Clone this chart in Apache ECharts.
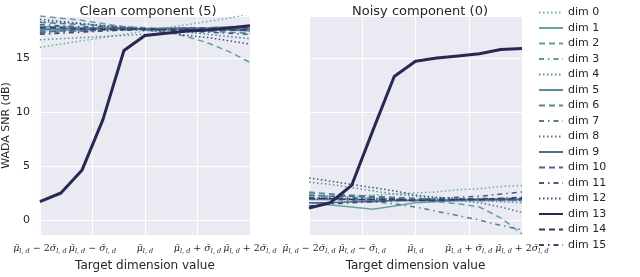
<!DOCTYPE html>
<html><head><meta charset="utf-8">
<script src="https://cdn.jsdelivr.net/npm/echarts@6/dist/echarts.min.js"></script>
<style>html,body{margin:0;padding:0;background:#fff}#c{width:640px;height:277px}</style>
</head><body><div id="c"></div>
<script>
// x positions in units of sigma from the mean
const xs = [-2, -1.6, -1.2, -0.8, -0.4, 0, 0.4, 0.8, 1.2, 1.6, 2];
const xTicks = [-2, -1, 0, 1, 2];
const yTicks = [0, 5, 10, 15];
const dims = ['dim 0','dim 1','dim 2','dim 3','dim 4','dim 5','dim 6','dim 7','dim 8','dim 9','dim 10','dim 11','dim 12','dim 13','dim 14','dim 15'];
const titles = ['Clean component (5)', 'Noisy component (0)'];

// Clean component (5): WADA SNR per dimension
const clean0  = [16.0,16.3,16.6,16.9,17.2,17.5,17.8,18.1,18.4,18.7,19.1];
const clean1  = [17.6,17.6,17.6,17.7,17.7,17.7,17.8,17.8,17.8,17.9,17.9];
const clean2  = [18.9,18.7,18.5,18.2,17.9,17.6,17.4,17.0,16.4,15.6,14.6];
const clean3  = [17.3,17.4,17.5,17.6,17.6,17.7,17.7,17.8,17.8,17.9,18.0];
const clean4  = [16.7,16.8,16.9,17.0,17.1,17.2,17.3,17.4,17.5,17.6,17.7];
const clean5  = [17.9,17.9,17.8,17.8,17.8,17.7,17.7,17.7,17.6,17.6,17.5];
const clean6  = [18.3,18.2,18.1,18.0,17.9,17.8,17.7,17.6,17.5,17.4,17.3];
const clean7  = [17.5,17.5,17.6,17.6,17.6,17.7,17.7,17.7,17.7,17.8,17.8];
const clean8  = [18.4,18.3,18.2,18.0,17.9,17.8,17.6,17.4,17.2,17.0,16.8];
const clean9  = [17.7,17.7,17.7,17.7,17.7,17.7,17.7,17.7,17.7,17.7,17.7];
const clean10 = [17.4,17.5,17.5,17.6,17.6,17.7,17.7,17.8,17.8,17.8,17.9];
const clean11 = [18.1,18.0,17.9,17.9,17.8,17.7,17.6,17.5,17.4,17.3,17.2];
const clean12 = [18.6,18.4,18.2,18.0,17.8,17.6,17.4,17.1,16.9,16.6,16.3];
const clean13 = [1.7,2.5,4.6,9.3,15.7,17.1,17.3,17.5,17.6,17.8,18.0];
const clean14 = [17.8,17.8,17.7,17.7,17.7,17.7,17.6,17.6,17.6,17.6,17.6];
const clean15 = [17.2,17.3,17.4,17.5,17.6,17.6,17.6,17.7,17.7,17.7,17.7];

// Noisy component (0): WADA SNR per dimension
const noisy0  = [2.0,2.1,2.2,2.3,2.4,2.5,2.6,2.8,2.9,3.1,3.2];
const noisy1  = [1.6,1.4,1.2,1.0,1.3,1.6,1.7,1.8,1.8,1.9,1.9];
const noisy2  = [2.6,2.4,2.2,2.1,2.0,1.9,1.7,1.5,1.2,0.2,-1.3];
const noisy3  = [2.3,2.2,2.1,2.0,1.9,1.9,1.8,1.8,1.8,1.8,1.8];
const noisy4  = [3.5,3.3,3.0,2.7,2.4,2.2,2.0,1.9,1.8,1.7,1.6];
const noisy5  = [1.9,1.9,1.9,1.8,1.8,1.8,1.8,1.8,1.9,1.9,1.9];
const noisy6  = [2.5,2.4,2.3,2.2,2.1,2.0,1.9,1.9,1.8,1.8,1.8];
const noisy7  = [2.0,1.9,1.8,1.7,1.5,1.2,0.8,0.4,0.0,-0.5,-0.9];
const noisy8  = [2.0,2.0,2.0,2.0,1.9,1.9,1.9,1.8,1.6,1.2,0.7];
const noisy9  = [1.6,1.6,1.7,1.7,1.8,1.8,1.8,1.9,1.9,1.9,1.9];
const noisy10 = [2.3,2.2,2.2,2.1,2.0,1.9,1.9,1.9,1.9,1.9,2.0];
const noisy11 = [2.1,2.0,2.0,1.9,1.9,1.9,2.0,2.1,2.2,2.4,2.6];
const noisy12 = [3.9,3.6,3.3,3.0,2.7,2.3,2.1,2.0,1.9,1.9,1.9];
const noisy13 = [1.1,1.6,3.2,8.3,13.3,14.7,15.0,15.2,15.4,15.8,15.9];
const noisy14 = [2.0,2.0,1.9,1.9,1.9,1.8,1.8,1.9,1.9,2.0,2.0];
const noisy15 = [1.3,1.5,1.6,1.7,1.8,1.8,1.9,1.9,2.0,2.0,2.1];

const clean = [clean0,clean1,clean2,clean3,clean4,clean5,clean6,clean7,clean8,clean9,clean10,clean11,clean12,clean13,clean14,clean15];
const noisy = [noisy0,noisy1,noisy2,noisy3,noisy4,noisy5,noisy6,noisy7,noisy8,noisy9,noisy10,noisy11,noisy12,noisy13,noisy14,noisy15];

const colors = ['#6fada3','#68a7a0','#63a19e','#5e9b9c','#5a949a','#578d98','#548696','#527f94','#507892','#4c6f90','#49668b','#455c86','#40527e','#2a2852','#333866','#3b4470'];
const dashes = ['dotted','solid','dashed','dashdot'];
function lineType(i){
  const t = dashes[i % 4];
  if (t === 'dotted') return [1.5, 2.5];
  if (t === 'dashed') return [6, 4];
  if (t === 'dashdot') return [5, 4, 1.5, 4];
  return 'solid';
}
const txt = '#262626';
const fontSans = 'DejaVu Sans';

function xLabel(v){
  const mu = '{m|μ̄}{s|l, d}';
  const sg = '{m|σ̄}{s|l, d}';
  if (v === -2) return mu + '{o| − 2}' + sg;
  if (v === -1) return mu + '{o| − }' + sg;
  if (v === 0) return mu;
  if (v === 1) return mu + '{o| + }' + sg;
  if (v === 2) return mu + '{o| + 2}' + sg;
  return '';
}
const rich = {
  m: {fontFamily:'DejaVu Serif', fontStyle:'italic', fontSize:9.5, color:txt, lineHeight:14, verticalAlign:'middle'},
  s: {fontFamily:'DejaVu Serif', fontStyle:'italic', fontSize:6.5, color:txt, lineHeight:14, verticalAlign:'bottom', padding:[4,0,0,0]},
  o: {fontFamily:'DejaVu Serif', fontSize:9.5, color:txt, lineHeight:14, verticalAlign:'middle'}
};

const grids = [
  {left:37, top:16, width:213, height:223},
  {left:309, top:16, width:213, height:223}
];
function xAx(gi){
  return {type:'value', gridIndex:gi, min:-2, max:2, interval:1,
    name:'Target dimension value', nameLocation:'middle', nameGap:20,
    nameTextStyle:{fontFamily:fontSans, fontSize:12, color:txt},
    axisLine:{show:false}, axisTick:{show:false},
    axisLabel:{formatter:xLabel, rich:rich, margin:6, hideOverlap:false, interval:0,
      showMinLabel:true, showMaxLabel:true},
    splitLine:{show:true, lineStyle:{color:'#ffffff', width:1}}};
}
function yAx(gi){
  return {type:'value', gridIndex:gi, min:-1.4, max:18.9,
    name: gi === 0 ? 'WADA SNR (dB)' : '', nameLocation:'middle', nameGap:24,
    nameTextStyle:{fontFamily:fontSans, fontSize:11, color:txt},
    axisLine:{show:false}, axisTick:{show:false},
    axisLabel:{show: gi === 0, fontFamily:fontSans, fontSize:11, color:txt, margin:10,
      showMinLabel:false, showMaxLabel:false,
      formatter: v => yTicks.indexOf(v) >= 0 ? String(v) : ''},
    splitLine:{show:true, lineStyle:{color:'#ffffff', width:1}}};
}

const series = [];
[clean, noisy].forEach((set, gi) => {
  set.forEach((vals, i) => {
    series.push({
      type:'line', name:dims[i], xAxisIndex:gi, yAxisIndex:gi,
      data: xs.map((x, k) => [x, vals[k]]),
      symbol:'none', showSymbol:false, silent:true, animation:false,
      color: colors[i],
      lineStyle:{color:colors[i], width: i === 13 ? 3 : 1.5, type: lineType(i)},
      z: i === 13 ? 5 : 2
    });
  });
});

const chart = echarts.init(document.getElementById('c'), null, {renderer:'canvas'});
chart.setOption({
  animation:false,
  title: titles.map((t, i) => ({text:t, left: i === 0 ? 143 : 415, top:0, textAlign:'center',
    textStyle:{fontFamily:fontSans, fontSize:13, fontWeight:'normal', color:txt}})),
  grid: grids.map(g => Object.assign({backgroundColor:'#eaeaf2', show:true, borderWidth:0}, g)),
  xAxis:[xAx(0), xAx(1)],
  yAxis:[yAx(0), yAx(1)],
  legend:{orient:'vertical', left:533, top:2, itemWidth:24, itemHeight:10, itemGap:4.5,
    data:dims, selectedMode:false, itemStyle:{opacity:0},
    textStyle:{fontFamily:fontSans, fontSize:11, color:txt}},
  series: series
});
</script></body></html>
